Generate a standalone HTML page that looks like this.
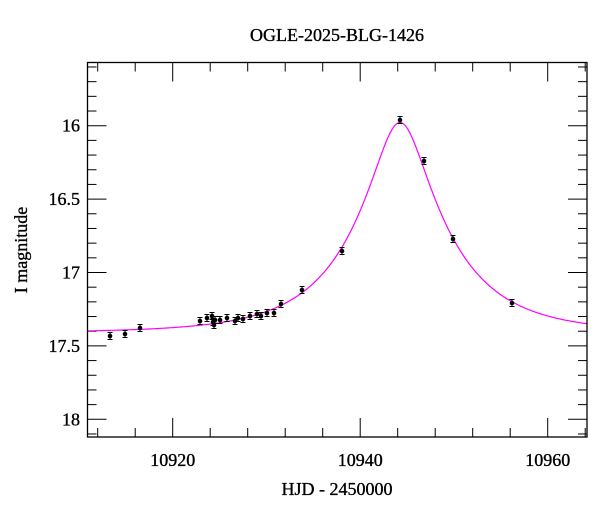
<!DOCTYPE html><html><head><style>body{margin:0;background:#fff}svg text{font-family:"Liberation Serif",serif;fill:#000;stroke:#000;stroke-width:0.35}</style></head><body>
<svg id="s" width="600" height="512" xmlns="http://www.w3.org/2000/svg">
<text x="337" y="41" font-size="18" text-anchor="middle">OGLE-2025-BLG-1426</text>
<text x="337" y="495" font-size="18" text-anchor="middle">HJD - 2450000</text>
<text transform="translate(27,250) rotate(-90)" font-size="18" text-anchor="middle">I magnitude</text>
<g id="ax"></g>
<rect x="87.5" y="62.5" width="499.5" height="374.5" fill="none" stroke="#000" stroke-width="1.3"/>
</svg>
<script>
const s=document.getElementById('ax'),N='http://www.w3.org/2000/svg';
function el(t,a){const e=document.createElementNS(N,t);for(const k in a)e.setAttribute(k,a[k]);s.appendChild(e);return e}
const X=d=>172.7+(d-10920)*9.375, Y=m=>125.7+(m-16)*146.8;
for(let d=10912;d<=10976;d+=4){const x=X(d);if(x<88||x>586)continue;const L=d%20==0?19:9;
el('line',{x1:x,y1:437,x2:x,y2:437-L,stroke:'#000','stroke-width':1});el('line',{x1:x,y1:62.5,x2:x,y2:62.5+L,stroke:'#000','stroke-width':1});
if(d%20==0){const t=el('text',{x:x,y:466,'font-size':18,'text-anchor':'middle'});t.textContent=d;}}
for(let i=0;i<=26;i++){const m=15.6+i*0.1;const y=Y(m);if(y<63||y>436)continue;const maj=Math.abs(m*2-Math.round(m*2))<1e-6;const L=maj?19:9;
el('line',{x1:87.5,y1:y,x2:87.5+L,y2:y,stroke:'#000','stroke-width':1});el('line',{x1:587,y1:y,x2:587-L,y2:y,stroke:'#000','stroke-width':1});
if(maj){const t=el('text',{x:80,y:y+6,'font-size':18,'text-anchor':'end'});t.textContent=(+m.toFixed(1)).toString();}}
let p='';for(let x=88;x<=587;x++){const dx=(x-400)/93,u=Math.sqrt(.275*.275+dx*dx),A=(u*u+2)/(u*Math.sqrt(u*u+4));const m=17.41-2.5*Math.log10(A);p+=(p?'L':'M')+x+','+Y(m).toFixed(1);}
el('path',{d:p,fill:'none',stroke:'#ff00ff','stroke-width':1.2});
const pts=[[110,336],[125,334],[140,328],[200,321],[207,318],[212,316],[213,322],[214,325],[215,320],[220,320],[227,318],[235,321],[238,318],[243,319],[250,316],[257,314],[261,316],[267,313],[274,313],[281,304],[302,290],[342,251],[400,120],[424,161],[453,239],[512,303]];
for(const [x,y] of pts){el('line',{x1:x,y1:y-3.5,x2:x,y2:y+3.5,stroke:'#000','stroke-width':1});el('line',{x1:x-2.5,y1:y-3.5,x2:x+2.5,y2:y-3.5,stroke:'#000'});el('line',{x1:x-2.5,y1:y+3.5,x2:x+2.5,y2:y+3.5,stroke:'#000'});el('circle',{cx:x,cy:y,r:2.3,fill:'#000'});}
</script></body></html>
